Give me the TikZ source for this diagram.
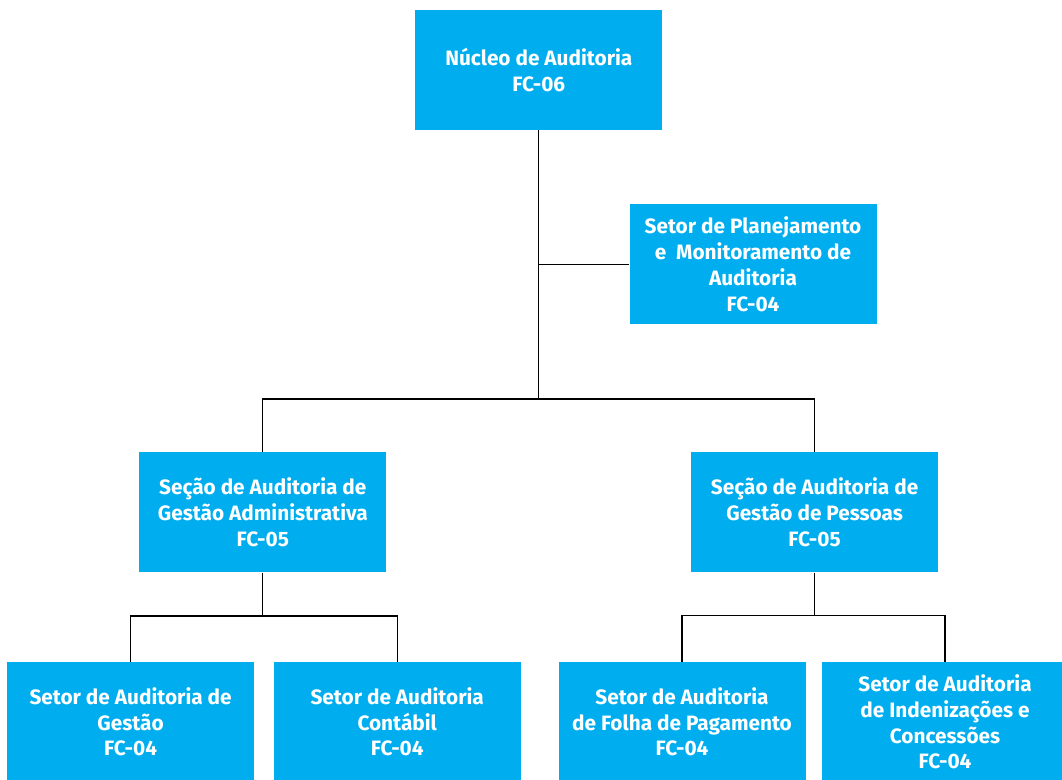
\documentclass[tikz,border=0pt]{standalone}
\usepackage{fontspec}
\setmainfont{Fira Sans}
\definecolor{boxblue}{HTML}{00AEEF}
\begin{document}
\begin{tikzpicture}[x=1pt,y=-1pt,
  orgbox/.style={fill=boxblue, draw=none, minimum width=247pt, minimum height=120pt,
    inner sep=0pt, text=white, align=center, font=\bfseries\fontsize{20.8}{25.7}\selectfont},
  link/.style={draw=black, line width=1.2pt}]
\useasboundingbox (0,0) rectangle (1062,779);
\clip (0,0) rectangle (1062,779);
\node[orgbox] (top) at (538.8,70) {Núcleo de Auditoria\\FC-06};
\node[orgbox] (plan) at (753,264.2) {Setor de Planejamento\\e\ \ Monitoramento de\\Auditoria\\FC-04};
\node[orgbox] (lsec) at (262.8,512.3) {Seção de Auditoria de\\Gestão Administrativa\\FC-05};
\node[orgbox] (rsec) at (814.6,512.3) {Seção de Auditoria de\\Gestão de Pessoas\\FC-05};
\node[orgbox] (b1) at (130.6,722) {Setor de Auditoria de\\Gestão\\FC-04};
\node[orgbox] (b2) at (397.2,722) {Setor de Auditoria\\Contábil\\FC-04};
\node[orgbox] (b3) at (682,722) {Setor de Auditoria\\de Folha de Pagamento\\FC-04};
\node[orgbox] (b4) at (945,722) {Setor de Auditoria\\de Indenizações e\\Concessões\\FC-04};
\coordinate (j1) at (538.8,399);
\coordinate (j2) at (262.8,616);
\coordinate (j3) at (814.6,615.5);
\draw[link] (top.south) -- (j1);
\draw[link] (top.south |- plan.west) -- (plan.west);
\draw[link] (lsec.north) |- (j1) -| (rsec.north);
\draw[link] (lsec.south) -- (j2);
\draw[link] (b1.north) |- (j2) -| (b2.north);
\draw[link] (rsec.south) -- (j3);
\draw[link] (b3.north) |- (j3) -| (b4.north);
\end{tikzpicture}
\end{document}
